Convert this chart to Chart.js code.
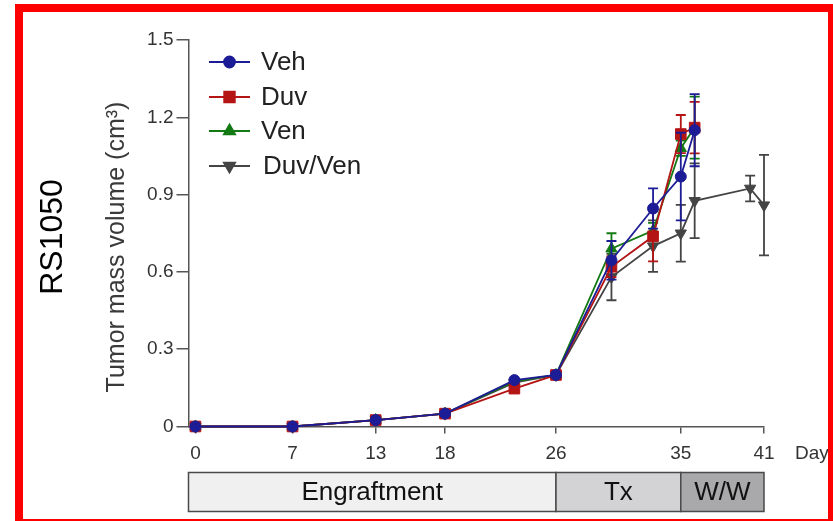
<!DOCTYPE html>
<html>
<head>
<meta charset="utf-8">
<script src="https://cdn.jsdelivr.net/npm/chart.js@4.4.1/dist/chart.umd.min.js"></script>
<style>
  html, body { margin: 0; padding: 0; background: #fff; overflow: hidden; }
  #wrap { position: relative; width: 833px; height: 521px; }
  #c { position: absolute; left: 0; top: 0; }
  #frame { position: absolute; left: 15px; top: 4px; width: 821px; height: 523px;
           box-sizing: border-box; border: 8px solid #ff0000; pointer-events: none; }
</style>
</head>
<body>
<div id="wrap">
  <canvas id="c" width="833" height="521"></canvas>
  <div id="frame"></div>
</div>
<script>
// Measurement days (x) for each group
const days    = [0, 7, 13, 18, 23, 26, 30, 33, 35, 36];
const duvVenDays = [0, 7, 13, 18, 23, 26, 30, 33, 35, 36, 40, 41];

// Mean tumor mass volume (cm3) per group
const vehValues    = [0, 0, 0.025, 0.05, 0.18, 0.20, 0.645, 0.846, 0.97, 1.15];
const duvValues    = [0, 0, 0.025, 0.05, 0.147, 0.20, 0.62, 0.738, 1.135, 1.16];
const venValues    = [0, 0, 0.025, 0.05, 0.175, 0.20, 0.69, 0.76, 1.08, 1.16];
const duvVenValues = [0, 0, 0.025, 0.05, 0.17, 0.20, 0.58, 0.70, 0.75, 0.876, 0.924, 0.859];

// Error (+/-) per point
const vehErr    = [0, 0, 0, 0, 0, 0, 0.075, 0.078, 0.17, 0.14];
const duvErr    = [0, 0, 0, 0, 0, 0, 0.04, 0.097, 0.074, 0.10];
const venErr    = [0, 0, 0, 0, 0, 0, 0.06, 0.03, 0.03, 0.12];
const duvVenErr = [0, 0, 0, 0, 0, 0, 0.09, 0.10, 0.11, 0.145, 0.05, 0.195];

// Axis ticks
const xTickDays   = [0, 7, 13, 18, 26, 35, 41];
const yTickValues = [0, 0.3, 0.6, 0.9, 1.2, 1.5];
const yTickLabels = ['0', '0.3', '0.6', '0.9', '1.2', '1.5'];

// Study phases along the day axis
const phaseNames  = ['Engraftment', 'Tx', 'W/W'];
const phaseStarts = [0, 26, 35];
const phaseEnds   = [26, 35, 41];

const FONT = '"Liberation Sans", Arial, Helvetica, sans-serif';
Chart.defaults.font.family = FONT;

const toPoints = (xs, ys) => xs.map((x, i) => ({ x: x, y: ys[i] }));

function series(label, xs, ys, errs, color, style, radius, rotation) {
  return {
    label: label,
    data: toPoints(xs, ys),
    errors: errs,
    borderColor: color,
    backgroundColor: color,
    borderWidth: 1.8,
    pointStyle: style,
    pointRotation: rotation || 0,
    pointRadius: radius,
    pointHoverRadius: radius,
    pointBorderWidth: 1,
    tension: 0,
    clip: false
  };
}

const datasets = [
  series('Veh', days, vehValues, vehErr, '#1c1c96', 'circle', 5.5),
  series('Duv', days, duvValues, duvErr, '#b41414', 'rect', 7.5),
  series('Ven', days, venValues, venErr, '#137a13', 'triangle', 6.5),
  series('Duv/Ven', duvVenDays, duvVenValues, duvVenErr, '#444444', 'triangle', 6.5, 180)
];

// Vertical error bars with caps, drawn just before each series
const errorBars = {
  id: 'errorBars',
  beforeDatasetDraw(chart, args) {
    const ds = chart.data.datasets[args.index];
    const xs = chart.scales.x, ys = chart.scales.y;
    const ctx = chart.ctx;
    ctx.save();
    ctx.strokeStyle = ds.borderColor;
    ctx.lineWidth = 1.8;
    ds.data.forEach((p, i) => {
      const e = ds.errors[i];
      if (!e) return;
      const px = xs.getPixelForValue(p.x);
      const top = ys.getPixelForValue(p.y + e);
      const bot = ys.getPixelForValue(p.y - e);
      ctx.beginPath();
      ctx.moveTo(px, top); ctx.lineTo(px, bot);
      ctx.moveTo(px - 5, top); ctx.lineTo(px + 5, top);
      ctx.moveTo(px - 5, bot); ctx.lineTo(px + 5, bot);
      ctx.stroke();
    });
    ctx.restore();
  }
};

// Legend with line + marker samples
const lineLegend = {
  id: 'lineLegend',
  afterDraw(chart) {
    const ctx = chart.ctx;
    const rows = [62, 97, 131, 166];
    chart.data.datasets.forEach((ds, i) => {
      const y = rows[i];
      ctx.save();
      ctx.strokeStyle = ds.borderColor;
      ctx.lineWidth = 1.8;
      ctx.beginPath(); ctx.moveTo(209, y); ctx.lineTo(250, y); ctx.stroke();
      ctx.fillStyle = ds.backgroundColor;
      Chart.helpers.drawPoint(ctx, {
        pointStyle: ds.pointStyle, rotation: ds.pointRotation,
        radius: ds.pointRadius, borderWidth: 1
      }, 229.5, y);
      ctx.fill();
      ctx.fillStyle = '#222';
      ctx.font = '26px ' + FONT;
      ctx.textAlign = 'left';
      ctx.textBaseline = 'middle';
      ctx.fillText(ds.label, i === 3 ? 263 : 261, y + 1);
      ctx.restore();
    });
  }
};

// Axis titles, panel label, day unit and phase bar
const annotations = {
  id: 'annotations',
  afterDraw(chart) {
    const ctx = chart.ctx;
    const xs = chart.scales.x;
    ctx.save();
    // y-axis title
    ctx.translate(117, 247);
    ctx.rotate(-Math.PI / 2);
    ctx.fillStyle = '#3a3a3a';
    ctx.font = '25px ' + FONT;
    ctx.textAlign = 'center';
    ctx.textBaseline = 'middle';
    ctx.fillText('Tumor mass volume (cm\u00B3)', 0, 0);
    ctx.restore();

    ctx.save();
    ctx.translate(53, 237);
    ctx.rotate(-Math.PI / 2);
    ctx.fillStyle = '#000';
    ctx.font = '32px ' + FONT;
    ctx.textAlign = 'center';
    ctx.textBaseline = 'middle';
    ctx.fillText('RS1050', 0, 0);
    ctx.restore();

    ctx.save();
    ctx.fillStyle = '#333';
    ctx.font = '19px ' + FONT;
    ctx.textAlign = 'left';
    ctx.textBaseline = 'middle';
    ctx.fillText('Day', xs.right + 31, 454);
    ctx.restore();

    // phase bar
    const fills = ['#f0f0f0', '#d3d3d5', '#a9a9ab'];
    const top = 472.5, h = 39;
    ctx.save();
    phaseNames.forEach((name, i) => {
      const x0 = i === 0 ? xs.left : xs.getPixelForValue(phaseStarts[i]);
      const x1 = xs.getPixelForValue(phaseEnds[i]);
      ctx.fillStyle = fills[i];
      ctx.fillRect(x0, top, x1 - x0, h);
      ctx.strokeStyle = '#4a4a4a';
      ctx.lineWidth = 1.5;
      ctx.strokeRect(x0, top, x1 - x0, h);
      ctx.fillStyle = '#111';
      ctx.font = '26px ' + FONT;
      ctx.textAlign = 'center';
      ctx.textBaseline = 'middle';
      ctx.fillText(name, (x0 + x1) / 2, top + h / 2 + 1);
    });
    ctx.restore();
  }
};

new Chart(document.getElementById('c'), {
  type: 'line',
  data: { datasets: datasets },
  plugins: [errorBars, lineLegend, annotations],
  options: {
    responsive: false,
    animation: false,
    events: [],
    layout: { padding: { left: 0, top: 40, right: 69, bottom: 0 } },
    plugins: { legend: { display: false }, tooltip: { enabled: false } },
    scales: {
      x: {
        type: 'linear',
        min: -0.5,
        max: 41,
        afterFit(scale) { scale.height = 94.5; },
        afterBuildTicks(scale) { scale.ticks = xTickDays.map(v => ({ value: v })); },
        ticks: { color: '#333', font: { size: 19 }, padding: 9, maxRotation: 0, autoSkip: false },
        grid: { drawOnChartArea: false, drawTicks: true, tickLength: 7, color: '#555', lineWidth: 1.5 },
        border: { display: true, color: '#555', width: 1.5 }
      },
      y: {
        type: 'linear',
        min: 0,
        max: 1.5,
        afterFit(scale) { scale.width = 188.5; },
        afterBuildTicks(scale) { scale.ticks = yTickValues.map(v => ({ value: v })); },
        ticks: {
          color: '#333', font: { size: 19 }, padding: 3, autoSkip: false,
          callback: (v, i) => yTickLabels[i]
        },
        grid: { drawOnChartArea: false, drawTicks: true, tickLength: 12, color: '#555', lineWidth: 1.5 },
        border: { display: true, color: '#555', width: 1.5 }
      }
    }
  }
});
</script>
</body>
</html>
